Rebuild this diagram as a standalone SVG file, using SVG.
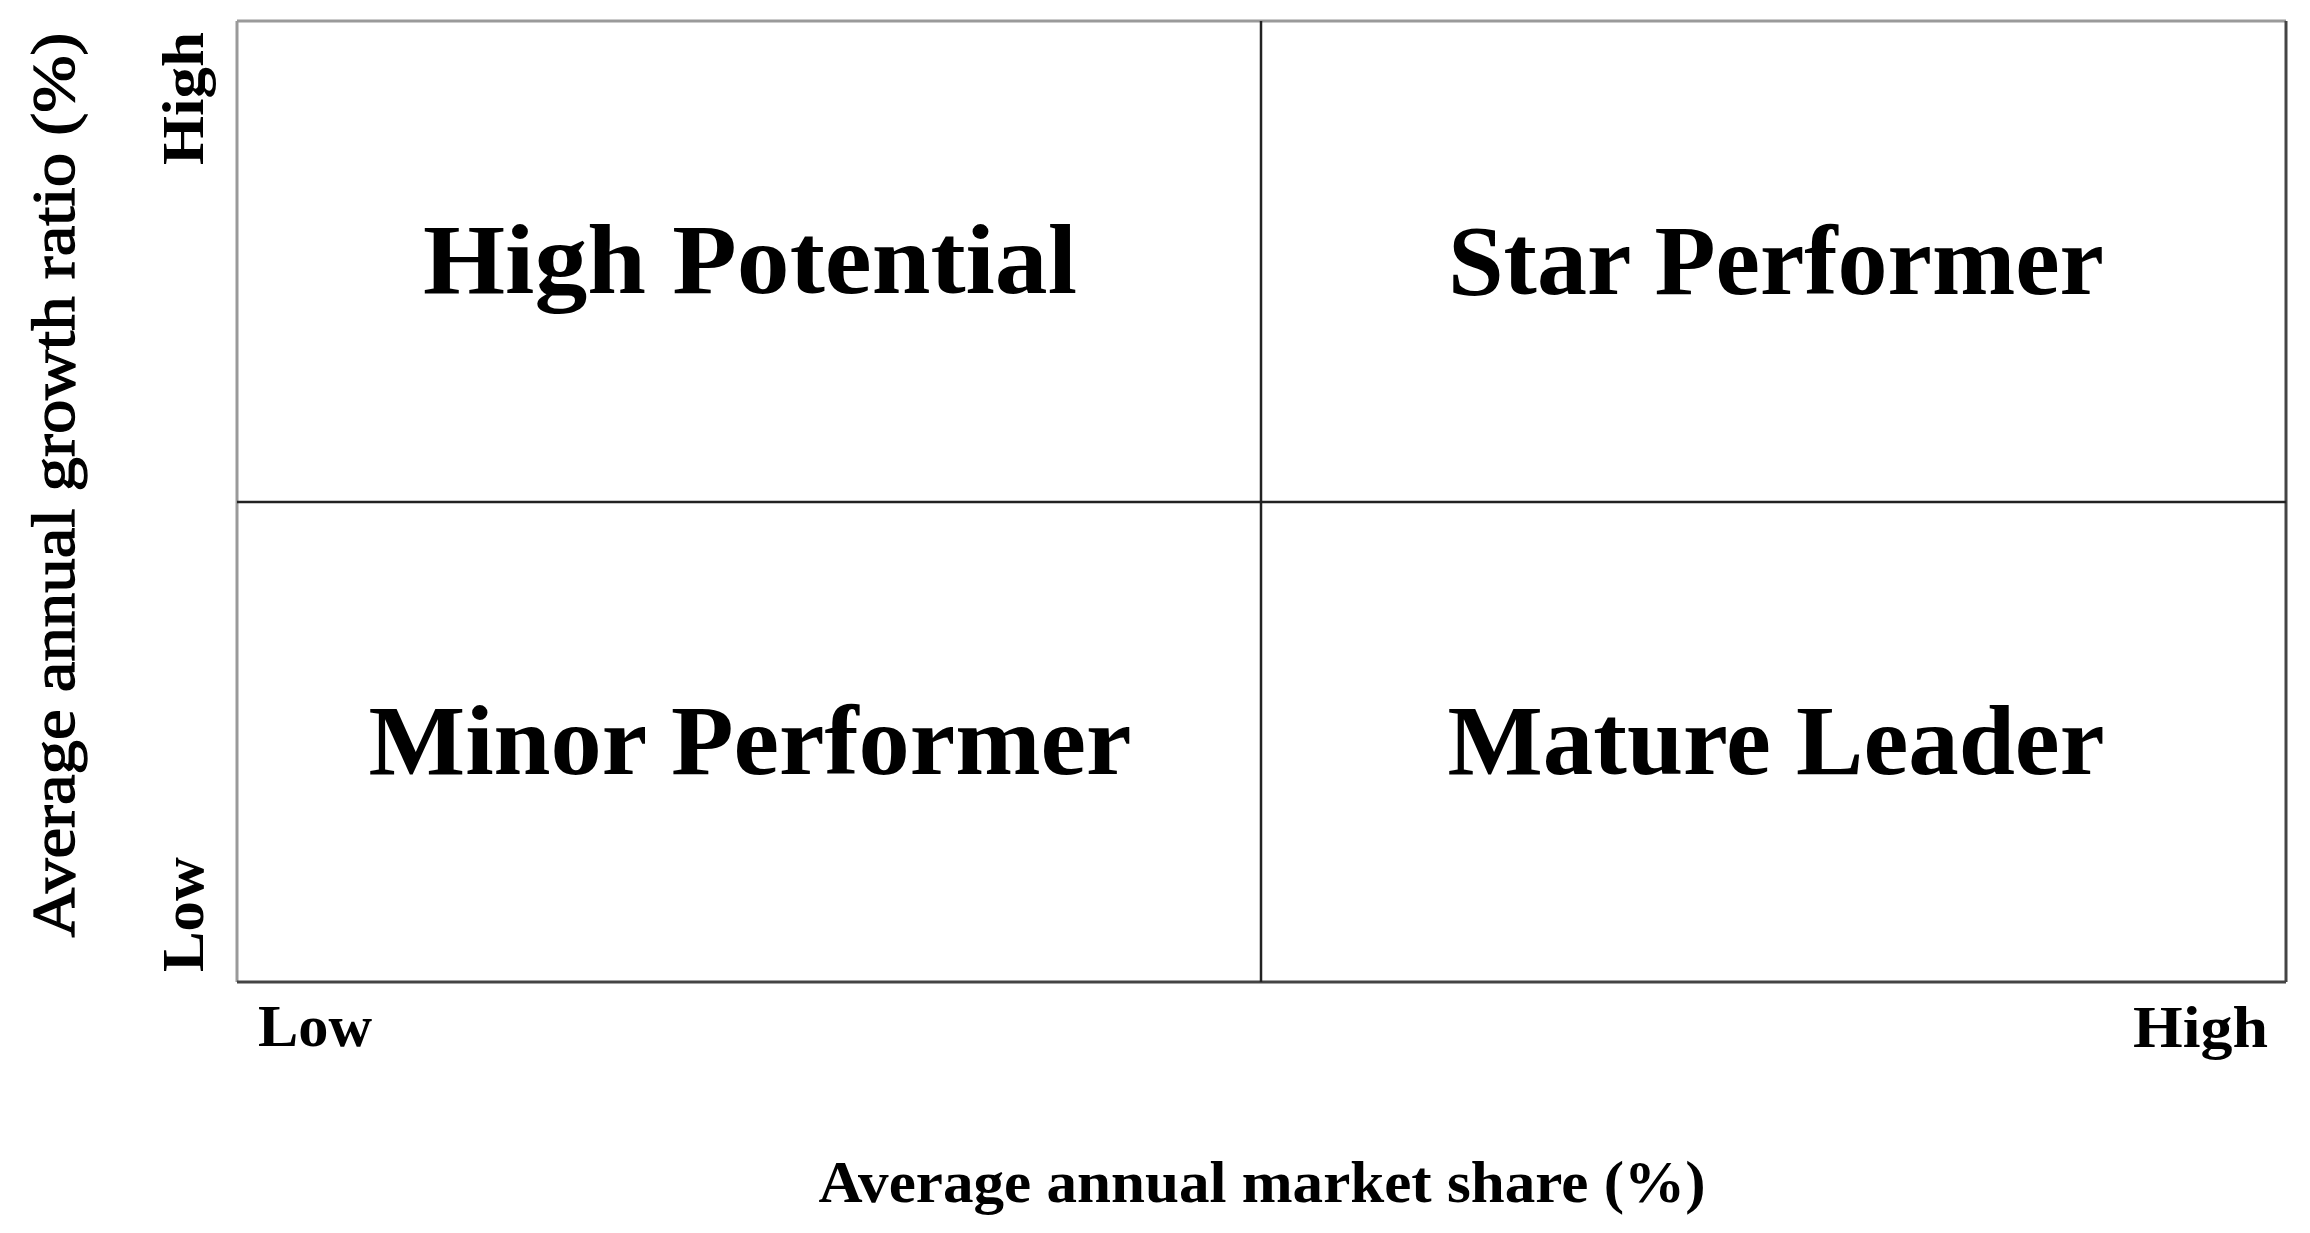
<svg xmlns="http://www.w3.org/2000/svg" width="2310" height="1233" viewBox="0 0 2310 1233">
<style>
.q{font-family:"Liberation Serif","Times New Roman",serif;font-weight:bold;font-size:100px;fill:#000;text-anchor:middle}
.a{font-family:"Liberation Serif","Times New Roman",serif;font-weight:bold;font-size:59px;fill:#000}
.t{font-family:"Liberation Serif","Times New Roman",serif;font-weight:normal;font-size:62px;fill:#000;stroke:#000;stroke-width:1.3}
.light{stroke:#9a9a9a;stroke-width:3;fill:none}
.dark{stroke:#444;stroke-width:3;fill:none}
.mid{stroke:#222;stroke-width:2.5;fill:none}
</style>
<rect width="2310" height="1233" fill="#fff"/>
<g id="grid">
<line class="light" x1="237" y1="21" x2="2286" y2="21"/>
<line class="light" x1="237" y1="21" x2="237" y2="982"/>
<line class="dark" x1="2286" y1="21" x2="2286" y2="982"/>
<line class="dark" x1="237" y1="982" x2="2286" y2="982"/>
<line class="mid" x1="1261" y1="21" x2="1261" y2="982"/>
<line class="mid" x1="237" y1="502" x2="2286" y2="502"/>
</g>
<g id="high-potential"><text class="q" x="750" y="293" textLength="654" lengthAdjust="spacingAndGlyphs">High Potential</text></g>
<g id="star-performer"><text class="q" x="1776" y="294" textLength="656" lengthAdjust="spacingAndGlyphs">Star Performer</text></g>
<g id="minor-performer"><text class="q" x="750" y="774" textLength="763" lengthAdjust="spacingAndGlyphs">Minor Performer</text></g>
<g id="mature-leader"><text class="q" x="1776" y="774" textLength="657" lengthAdjust="spacingAndGlyphs">Mature Leader</text></g>
<g id="x-axis">
<text class="a" x="258" y="1046" textLength="114" lengthAdjust="spacingAndGlyphs">Low</text>
<text class="a" x="2133" y="1047" textLength="135" lengthAdjust="spacingAndGlyphs">High</text>
<text class="a" x="1262" y="1202" text-anchor="middle" textLength="887" lengthAdjust="spacingAndGlyphs">Average annual market share (%)</text>
</g>
<g id="y-axis">
<text class="a" x="203" y="165" transform="rotate(-90 203 165)" textLength="133" lengthAdjust="spacingAndGlyphs">High</text>
<text class="a" x="203" y="972" transform="rotate(-90 203 972)" textLength="115" lengthAdjust="spacingAndGlyphs">Low</text>
<text class="t" x="74" y="485" transform="rotate(-90 74 485)" text-anchor="middle" textLength="905" lengthAdjust="spacingAndGlyphs">Average annual growth ratio (%)</text>
</g>
</svg>
